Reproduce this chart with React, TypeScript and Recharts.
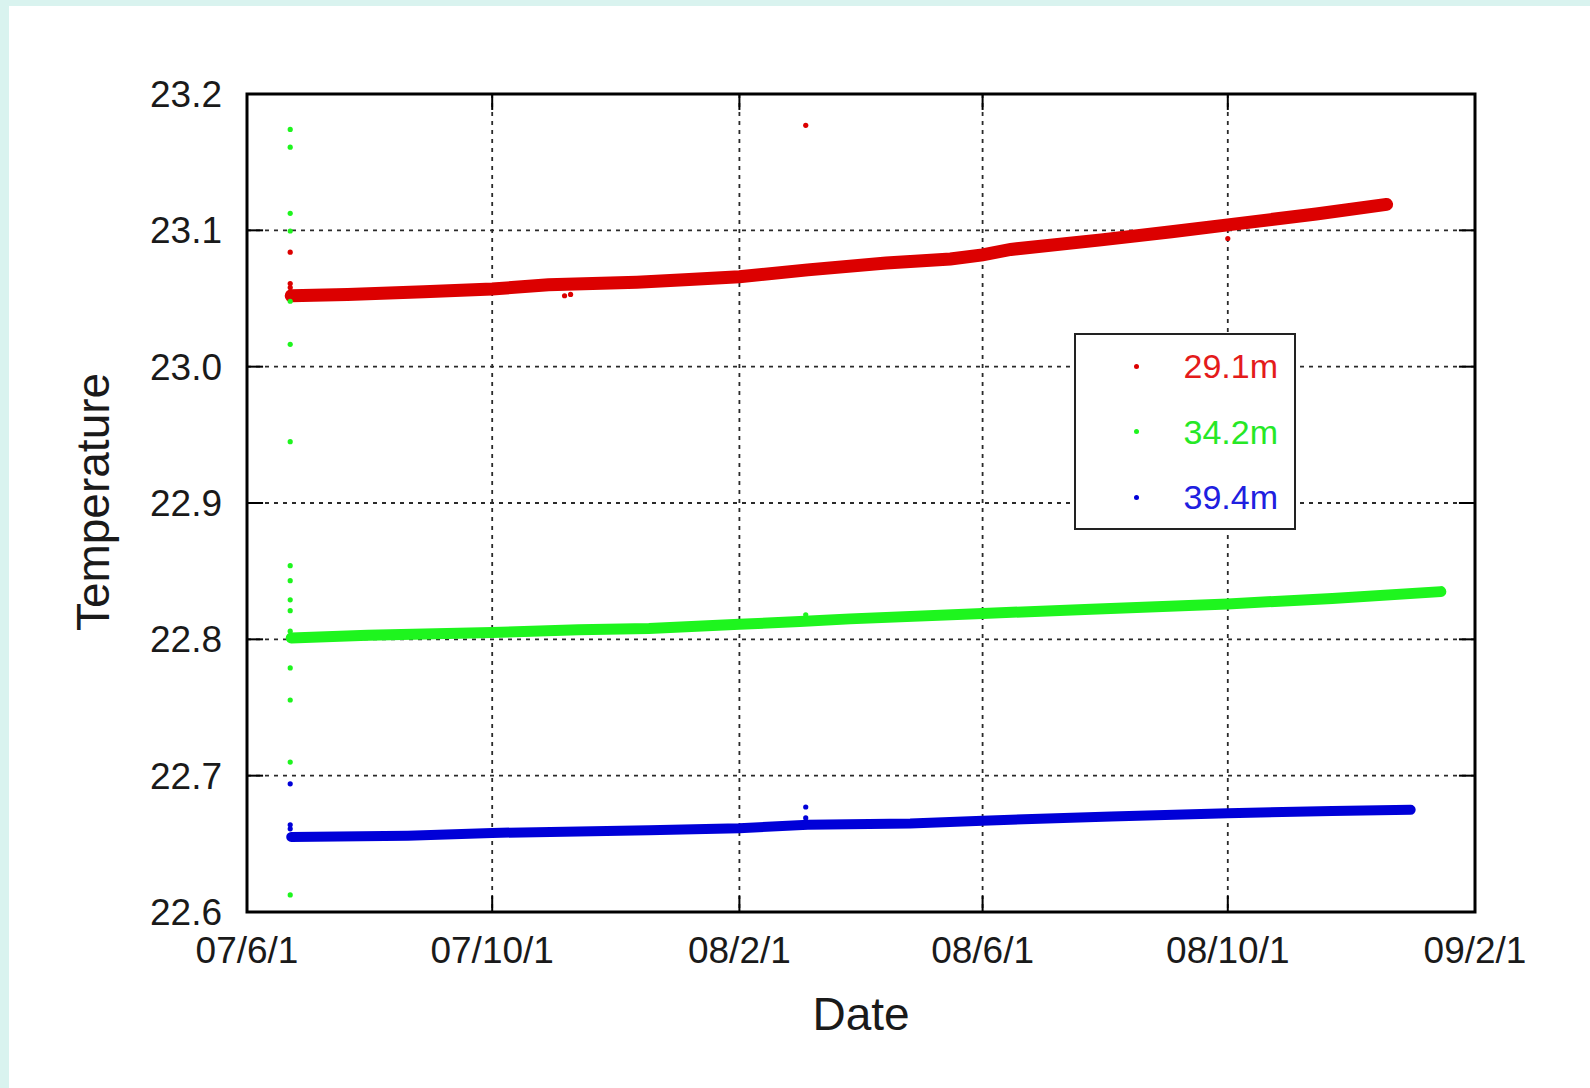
import React from "react";
import {
  CartesianGrid,
  ComposedChart,
  Legend,
  Line,
  ReferenceArea,
  ReferenceLine,
  Scatter,
  XAxis,
  YAxis,
} from "recharts";

// days counted from 2007/6/1
const DATE_TICKS = [0, 122, 245, 366, 488, 611];
const DATE_LABELS = ["07/6/1", "07/10/1", "08/2/1", "08/6/1", "08/10/1", "09/2/1"];
const TEMP_TICKS = [22.6, 22.7, 22.8, 22.9, 23.0, 23.1, 23.2];

const SERIES_NAMES = ["29.1m", "34.2m", "39.4m"];

// main bands
const RED_BAND = [
  { day: 22, t: 23.052 }, { day: 50, t: 23.053 }, { day: 88, t: 23.055 },
  { day: 122, t: 23.057 }, { day: 150, t: 23.06 }, { day: 194, t: 23.062 },
  { day: 220, t: 23.064 }, { day: 245, t: 23.066 }, { day: 279, t: 23.071 },
  { day: 318, t: 23.076 }, { day: 350, t: 23.079 }, { day: 366, t: 23.082 },
  { day: 380, t: 23.086 }, { day: 425, t: 23.093 }, { day: 460, t: 23.099 },
  { day: 488, t: 23.104 }, { day: 532, t: 23.112 }, { day: 567, t: 23.119 },
];
const GREEN_BAND = [
  { day: 22, t: 22.801 }, { day: 60, t: 22.803 }, { day: 122, t: 22.805 },
  { day: 165, t: 22.807 }, { day: 200, t: 22.808 }, { day: 245, t: 22.811 },
  { day: 275, t: 22.813 }, { day: 300, t: 22.815 }, { day: 366, t: 22.819 },
  { day: 420, t: 22.822 }, { day: 488, t: 22.826 }, { day: 540, t: 22.83 },
  { day: 594, t: 22.835 },
];
const BLUE_BAND = [
  { day: 22, t: 22.655 }, { day: 80, t: 22.656 }, { day: 122, t: 22.658 },
  { day: 200, t: 22.66 }, { day: 245, t: 22.6615 }, { day: 279, t: 22.664 },
  { day: 330, t: 22.665 }, { day: 366, t: 22.667 }, { day: 430, t: 22.67 },
  { day: 488, t: 22.6725 }, { day: 540, t: 22.674 }, { day: 579, t: 22.675 },
];

// stray readings
const RED_OUTLIERS = [
  { day: 21.5, t: 23.084 }, { day: 21.5, t: 23.061 }, { day: 21.5, t: 23.058 },
  { day: 158, t: 23.052 }, { day: 161, t: 23.053 }, { day: 278, t: 23.177 },
  { day: 488, t: 23.094 },
];
const GREEN_OUTLIERS = [
  { day: 21.5, t: 23.174 }, { day: 21.5, t: 23.161 }, { day: 21.5, t: 23.1125 },
  { day: 21.5, t: 23.0995 }, { day: 21.5, t: 23.048 }, { day: 21.5, t: 23.0164 },
  { day: 21.5, t: 22.945 }, { day: 21.5, t: 22.854 }, { day: 21.5, t: 22.843 },
  { day: 21.5, t: 22.829 }, { day: 21.5, t: 22.821 }, { day: 21.5, t: 22.806 },
  { day: 21.5, t: 22.779 }, { day: 21.5, t: 22.7555 }, { day: 21.5, t: 22.71 },
  { day: 21.5, t: 22.6125 }, { day: 278, t: 22.818 },
];
const BLUE_OUTLIERS = [
  { day: 21.5, t: 22.694 }, { day: 21.5, t: 22.664 }, { day: 21.5, t: 22.661 },
  { day: 278, t: 22.677 }, { day: 278, t: 22.669 },
];

const BAND_COLORS = ["#dc0000", "#1ef51e", "#0000d8"];
const TEXT_COLORS = ["#e41b1b", "#26e826", "#2020e0"];
const FONT = "'Liberation Sans', Arial, sans-serif";
const FRAME_CYAN = "#d9f3ef";

const dot = (color: string) => (p: any) =>
  <circle cx={p.cx} cy={p.cy} r={2.6} fill={color} />;

const LegendBox = () => (
  <div
    style={{
      position: "relative",
      width: 222,
      height: 197,
      boxSizing: "border-box",
      border: "2.5px solid #222",
      background: "#fff",
      fontFamily: FONT,
    }}
  >
    {SERIES_NAMES.map((name, i) => (
      <div
        key={name}
        style={{ position: "absolute", left: 0, right: 16, top: 31 + i * 65.5, height: 0 }}
      >
        <span
          style={{
            position: "absolute", left: 58, top: -2.5, width: 5, height: 5,
            borderRadius: 2.5, background: BAND_COLORS[i],
          }}
        />
        <span
          style={{
            position: "absolute", right: 0, top: -20, fontSize: 34,
            lineHeight: "40px", color: TEXT_COLORS[i],
          }}
        >
          {name}
        </span>
      </div>
    ))}
  </div>
);

export default function App() {
  const tickFont = { fontSize: 37, fill: "#1a1a1a", fontFamily: FONT };
  return (
    <div
      style={{
        position: "fixed", left: 0, top: 0, width: 1590, height: 1088,
        background: "#fff", overflow: "hidden",
      }}
    >
      <ComposedChart
        width={1590}
        height={1088}
        margin={{ top: 94, right: 115, left: 147, bottom: 116 }}
        style={{ position: "absolute", left: 0, top: 0 }}
      >
        <CartesianGrid stroke="#2a2a2a" strokeWidth={1.8} strokeDasharray="4 5" />
        <XAxis
          type="number"
          dataKey="day"
          domain={[0, 611]}
          ticks={DATE_TICKS}
          interval={0}
          allowDataOverflow
          height={60}
          axisLine={false}
          tickLine={false}
          tickSize={0}
          tickMargin={25}
          tick={tickFont}
          tickFormatter={(v: number) => DATE_LABELS[DATE_TICKS.indexOf(v)] ?? ""}
          label={{
            content: () => (
              <text x={861} y={1014} textAnchor="middle" dominantBaseline="central"
                fontSize={46} fontFamily={FONT} fill="#1a1a1a">Date</text>
            ),
          }}
        />
        <YAxis
          type="number"
          domain={[22.6, 23.2]}
          ticks={TEMP_TICKS}
          interval={0}
          allowDataOverflow
          width={100}
          axisLine={false}
          tickLine={false}
          tickSize={0}
          tickMargin={25}
          tick={tickFont}
          tickFormatter={(v: number) => v.toFixed(1)}
          label={{
            content: () => (
              <text x={93} y={502} textAnchor="middle" dominantBaseline="central"
                transform="rotate(-90 93 502)" fontSize={46} fontFamily={FONT}
                fill="#1a1a1a">Temperature</text>
            ),
          }}
        />

        <Line data={RED_BAND} dataKey="t" name={SERIES_NAMES[0]} stroke={BAND_COLORS[0]}
          strokeWidth={13} strokeLinecap="round" dot={false} isAnimationActive={false} legendType="none" />
        <Line data={GREEN_BAND} dataKey="t" name={SERIES_NAMES[1]} stroke={BAND_COLORS[1]}
          strokeWidth={11} strokeLinecap="round" dot={false} isAnimationActive={false} legendType="none" />
        <Line data={BLUE_BAND} dataKey="t" name={SERIES_NAMES[2]} stroke={BAND_COLORS[2]}
          strokeWidth={10} strokeLinecap="round" dot={false} isAnimationActive={false} legendType="none" />

        <Scatter data={RED_OUTLIERS} dataKey="t" shape={dot(BAND_COLORS[0])} isAnimationActive={false} legendType="none" />
        <Scatter data={GREEN_OUTLIERS} dataKey="t" shape={dot(BAND_COLORS[1])} isAnimationActive={false} legendType="none" />
        <Scatter data={BLUE_OUTLIERS} dataKey="t" shape={dot(BAND_COLORS[2])} isAnimationActive={false} legendType="none" />

        {TEMP_TICKS.map((t) => (
          <ReferenceLine key={"l" + t} segment={[{ x: 0, y: t }, { x: 8, y: t }]} stroke="#000" strokeWidth={2} />
        ))}
        {TEMP_TICKS.map((t) => (
          <ReferenceLine key={"r" + t} segment={[{ x: 603, y: t }, { x: 611, y: t }]} stroke="#000" strokeWidth={2} />
        ))}
        {DATE_TICKS.map((d) => (
          <ReferenceLine key={"b" + d} segment={[{ x: d, y: 22.6 }, { x: d, y: 22.6117 }]} stroke="#000" strokeWidth={2} />
        ))}
        {DATE_TICKS.map((d) => (
          <ReferenceLine key={"t" + d} segment={[{ x: d, y: 23.2 }, { x: d, y: 23.1883 }]} stroke="#000" strokeWidth={2} />
        ))}
        <ReferenceArea x1={0} x2={611} y1={22.6} y2={23.2} fill="none" fillOpacity={0}
          stroke="#000" strokeWidth={3} />

        <Legend
          layout="horizontal"
          verticalAlign="middle"
          align="center"
          content={() => <LegendBox />}
          wrapperStyle={{ position: "absolute", left: 1074, top: 333, width: 222, height: 197 }}
        />
      </ComposedChart>
      <div style={{ position: "absolute", zIndex: 5, left: 0, top: 0, width: 1590, height: 6, background: FRAME_CYAN }} />
      <div style={{ position: "absolute", zIndex: 5, left: 0, top: 0, width: 9, height: 1088, background: FRAME_CYAN }} />
    </div>
  );
}
